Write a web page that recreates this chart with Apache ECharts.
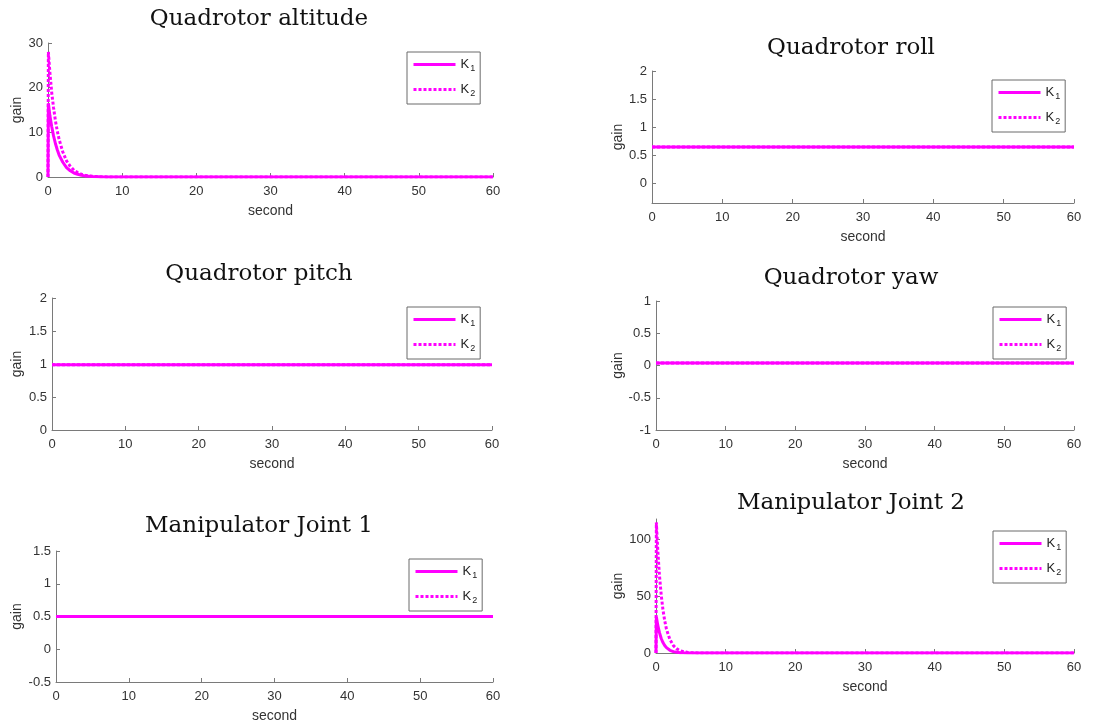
<!DOCTYPE html>
<html><head><meta charset="utf-8">
<script src="https://cdn.jsdelivr.net/npm/echarts@6/dist/echarts.min.js"></script>
<style>html,body{margin:0;padding:0;background:#fff}#c{width:1106px;height:725px}</style>
</head><body><div id="c"></div>
<script>
// ---------- data ----------
const panelTitles = ['Quadrotor altitude', 'Quadrotor roll', 'Quadrotor pitch', 'Quadrotor yaw', 'Manipulator Joint 1', 'Manipulator Joint 2'];
const seriesNames = ['K1', 'K2'];
const xTicks = [0, 10, 20, 30, 40, 50, 60];

const timeTransient = [0, 0.05, 0.25, 0.5, 0.75, 1, 1.25, 1.5, 2, 2.5, 3, 3.5, 4, 4.5, 5, 6, 7, 8, 10, 60];
const timeConst = [0, 60];

const altitudeK1 = [0, 16.5, 13.8, 11.3, 9.2, 7.5, 6.1, 4.9, 3.3, 2.1, 1.4, 0.9, 0.6, 0.4, 0.25, 0.1, 0.04, 0.02, 0, 0];
const altitudeK2 = [0, 28, 23.5, 18.9, 15.5, 12.6, 10.3, 8.4, 5.6, 3.6, 2.4, 1.5, 1.0, 0.6, 0.4, 0.15, 0.06, 0.02, 0, 0];
const rollK1 = [0.645, 0.645];
const rollK2 = [0.645, 0.645];
const pitchK1 = [0.99, 0.99];
const pitchK2 = [0.99, 0.99];
const yawK1 = [0.04, 0.04];
const yawK2 = [0.04, 0.04];
const joint1K1 = [0.5, 0.5];
const joint1K2 = [0.5, 0.5];
const joint2K1 = [0, 32, 24.5, 17.9, 12.8, 9.2, 6.6, 4.7, 2.4, 1.2, 0.6, 0.3, 0.15, 0.08, 0.04, 0.01, 0, 0, 0, 0];
const joint2K2 = [0, 115, 91, 68, 51, 38, 28.5, 21, 11.8, 6.5, 3.6, 2.0, 1.1, 0.6, 0.33, 0.1, 0.03, 0.01, 0, 0];

const yTicksAltitude = [0, 10, 20, 30];
const yTicksRoll = [0, 0.5, 1, 1.5, 2];
const yTicksPitch = [0, 0.5, 1, 1.5, 2];
const yTicksYaw = [-1, -0.5, 0, 0.5, 1];
const yTicksJoint1 = [-0.5, 0, 0.5, 1, 1.5];
const yTicksJoint2 = [0, 50, 100];

// ---------- layout ----------
const panels = [
  {time: timeTransient, k1: altitudeK1, k2: altitudeK2, yTicks: yTicksAltitude, yMin: 0, yMax: 30,
   grid: {left: 48, top: 43, width: 445, height: 134}, titleX: 259, titleY: 19, legend: {left: 407, top: 52}, yGap: 24},
  {time: timeConst, k1: rollK1, k2: rollK2, yTicks: yTicksRoll, yMin: -0.35, yMax: 2,
   grid: {left: 652, top: 71, width: 422, height: 132}, titleX: 851, titleY: 48, legend: {left: 992, top: 80}, yGap: 26},
  {time: timeConst, k1: pitchK1, k2: pitchK2, yTicks: yTicksPitch, yMin: 0, yMax: 2,
   grid: {left: 52, top: 298, width: 440, height: 132}, titleX: 259, titleY: 274, legend: {left: 407, top: 307}, yGap: 28},
  {time: timeConst, k1: yawK1, k2: yawK2, yTicks: yTicksYaw, yMin: -1, yMax: 1,
   grid: {left: 656, top: 301, width: 418, height: 129}, titleX: 851, titleY: 278, legend: {left: 993, top: 307}, yGap: 29},
  {time: timeConst, k1: joint1K1, k2: joint1K2, yTicks: yTicksJoint1, yMin: -0.5, yMax: 1.5,
   grid: {left: 56, top: 551, width: 437, height: 131}, titleX: 259, titleY: 526, legend: {left: 409, top: 559}, yGap: 32},
  {time: timeTransient, k1: joint2K1, k2: joint2K2, yTicks: yTicksJoint2, yMin: 0, yMax: 118,
   grid: {left: 656, top: 519, width: 418, height: 134}, titleX: 851, titleY: 503, legend: {left: 993, top: 531}, yGap: 29}
];

const MAGENTA = '#ff00ff';
const AXIS_COLOR = '#7a7a7a';
const TEXT_COLOR = '#333333';

const option = {
  animation: false,
  backgroundColor: '#ffffff',
  title: [], grid: [], xAxis: [], yAxis: [], series: [], legend: []
};

panels.forEach((p, i) => {
  option.title.push({
    text: panelTitles[i], left: p.titleX, top: p.titleY - 13, textAlign: 'center', padding: 0,
    textStyle: {fontFamily: 'DejaVu Serif', fontSize: 23, fontWeight: 'normal', color: '#111', lineHeight: 26}
  });
  option.grid.push(Object.assign({show: false, containLabel: false}, p.grid));
  option.xAxis.push({
    type: 'value', gridIndex: i, min: 0, max: 60, interval: 10,
    name: 'second', nameLocation: 'middle', nameGap: 27,
    nameTextStyle: {fontFamily: 'Liberation Sans', fontSize: 14, color: TEXT_COLOR},
    axisLine: {show: true, onZero: false, lineStyle: {color: AXIS_COLOR, width: 1}},
    axisTick: {show: true, inside: true, length: 4, lineStyle: {color: AXIS_COLOR}},
    axisLabel: {margin: 8, fontFamily: 'Liberation Sans', fontSize: 13, color: TEXT_COLOR,
      customValues: xTicks},
    splitLine: {show: false}
  });
  option.yAxis.push({
    type: 'value', gridIndex: i, min: p.yMin, max: p.yMax,
    name: 'gain', nameLocation: 'middle', nameGap: p.yGap, nameRotate: 90,
    nameTextStyle: {fontFamily: 'Liberation Sans', fontSize: 14, color: TEXT_COLOR},
    axisLine: {show: true, onZero: false, lineStyle: {color: AXIS_COLOR, width: 1}},
    axisTick: {show: true, inside: true, length: 4, lineStyle: {color: AXIS_COLOR}, customValues: p.yTicks},
    axisLabel: {margin: 5, fontFamily: 'Liberation Sans', fontSize: 13, color: TEXT_COLOR, customValues: p.yTicks},
    splitLine: {show: false}
  });
  const mk = (name, vals, type) => ({
    type: 'line', name: name, xAxisIndex: i, yAxisIndex: i,
    data: p.time.map((t, j) => [t, vals[j]]),
    showSymbol: false, symbol: 'none', clip: true,
    lineStyle: {color: MAGENTA, width: 3, type: type},
    itemStyle: {color: MAGENTA}
  });
  option.series.push(mk('K1', p.k1, 'solid'));
  option.series.push(mk('K2', p.k2, [3, 2]));
  option.legend.push({
    data: seriesNames, orient: 'vertical', left: p.legend.left, top: p.legend.top,
    itemWidth: 42, itemHeight: 12, itemGap: 10, padding: [6, 5, 6, 5],
    borderColor: '#6b6b6b', borderWidth: 1, backgroundColor: '#fff',
    selectedMode: false,
    itemStyle: {opacity: 0},
    lineStyle: {width: 3},
    formatter: (name) => '{k|K}{s|' + name.slice(1) + '}',
    textStyle: {fontFamily: 'Liberation Sans', fontSize: 13, color: '#222',
      rich: {k: {fontSize: 13, fontFamily: 'Liberation Sans', color: '#222'},
             s: {fontSize: 9, fontFamily: 'Liberation Sans', color: '#222', padding: [8, 0, 0, 1]}}}
  });
});

const chart = echarts.init(document.getElementById('c'), null, {renderer: 'canvas'});
chart.setOption(option);
</script>
</body></html>
